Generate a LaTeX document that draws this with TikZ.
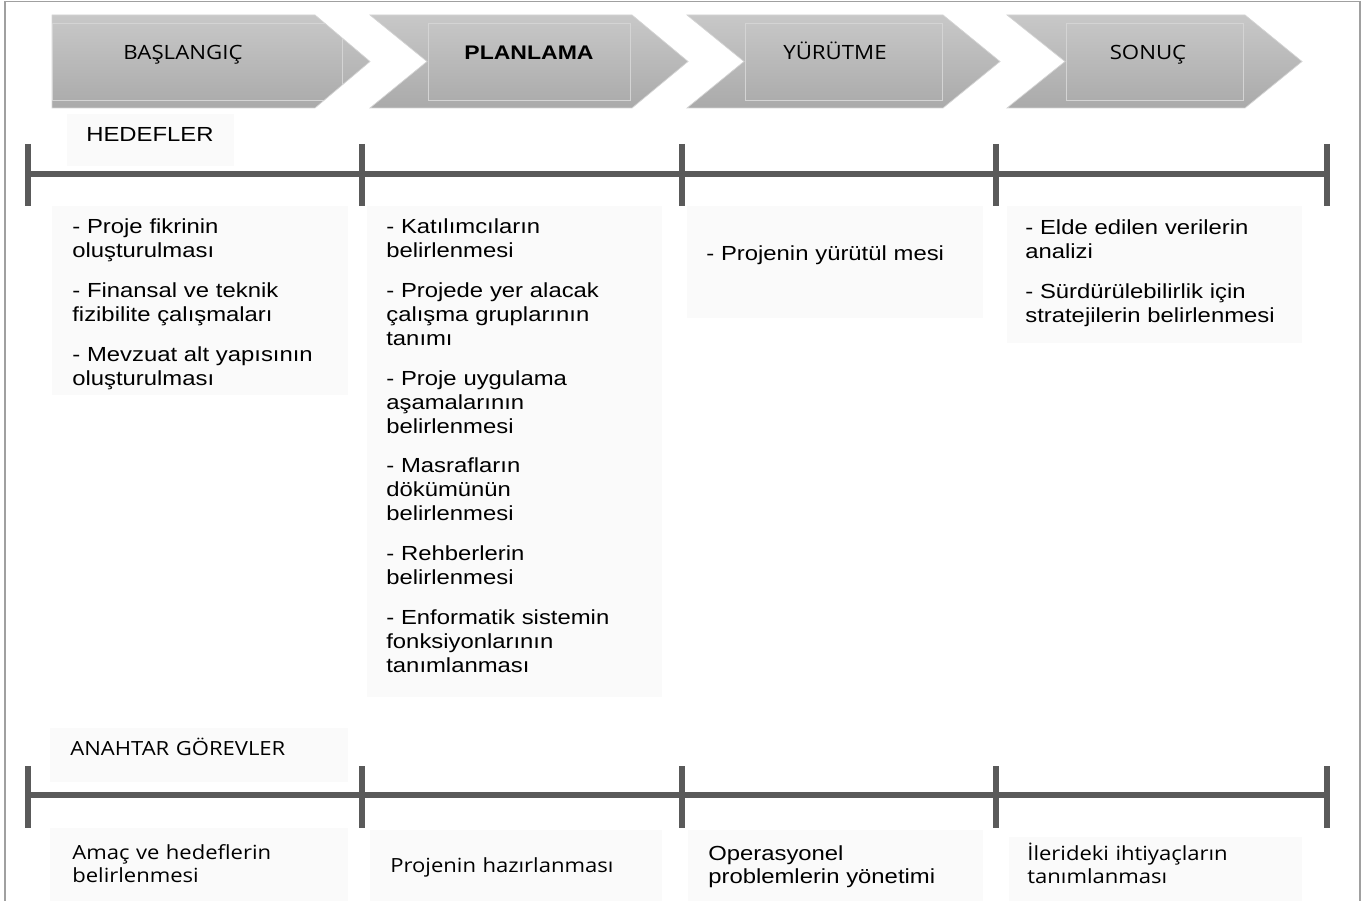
\documentclass[tikz,border=0pt]{standalone}
\usepackage{fontspec}
\usepackage{tikz}
\newfontfamily\arialfont[FakeStretch=1.17]{Liberation Sans}
\newfontfamily\openfont[FakeStretch=1.13]{Open Sans}
\definecolor{barcol}{HTML}{5A5A5A}
\definecolor{boxcol}{HTML}{FAFAFA}
\definecolor{framecol}{HTML}{A0A0A0}
\definecolor{chevtop}{HTML}{C8C8C8}
\definecolor{chevbot}{HTML}{AAAAAA}
\definecolor{chevline}{HTML}{D4D4D4}

\begin{document}
\begin{tikzpicture}[x=0.02cm,y=-0.02cm,
  chevron/.style={top color=chevtop,bottom color=chevbot,draw=chevline,line width=0.4pt},
  inner/.style={draw=chevline,line width=0.4pt},
  phase/.style={font=\openfont\fontsize{11.2}{13}\selectfont,inner sep=0pt,anchor=base},
  phasebold/.style={font=\arialfont\bfseries\fontsize{11.2}{13}\selectfont,inner sep=0pt,anchor=base},
  bgbox/.style={fill=boxcol,inner sep=0pt,anchor=north west},
  bodytext/.style={font=\arialfont\fontsize{11.6}{13.62}\selectfont,align=left,text width=170pt,inner sep=0pt,anchor=base west},
  tasktext/.style={font=\openfont\fontsize{11.1}{13.62}\selectfont,align=left,text width=170pt,inner sep=0pt,anchor=base west},
  bar/.style={draw=barcol,line width=3.7pt},
  tick/.style={draw=barcol,line width=3.4pt}]
\useasboundingbox (0,0) rectangle (1365,901);

%Frame
\draw[framecol,line width=1pt] (5,901) -- (5,1.5) -- (1360,1.5) -- (1360,901);

%Chevrons
\shade[chevron] (52,15) -- (315,15) -- (370,61.5) -- (315,108) -- (52,108) -- cycle;
\begin{scope}
\clip (52,15) -- (315,15) -- (370,61.5) -- (315,108) -- (52,108) -- cycle;
\draw[inner] (52,23) rectangle (342,100);
\end{scope}
\shade[chevron] (370,15) -- (632,15) -- (688,61.5) -- (632,108) -- (370,108) -- (427,61.5) -- cycle;
\draw[inner] (428,23) rectangle (630,100);
\shade[chevron] (687,15) -- (943,15) -- (1000,61.5) -- (943,108) -- (687,108) -- (744,61.5) -- cycle;
\draw[inner] (745,23) rectangle (942,100);
\shade[chevron] (1007,15) -- (1245,15) -- (1302,61.5) -- (1245,108) -- (1007,108) -- (1065,61.5) -- cycle;
\draw[inner] (1066,23) rectangle (1243,100);

\node[phase] (baslangic) at (183,60) {BAŞLANGIÇ};
\node[phasebold] (planlama) at (529,60) {PLANLAMA};
\node[phase] (yurutme) at (835,60) {YÜRÜTME};
\node[phase] (sonuc) at (1148,60) {SONUÇ};

%Goals
\node[bgbox,minimum width=167*0.02cm,minimum height=52*0.02cm] (hedbox) at (67,114) {};
\node[bodytext] (hedefler) at (86,142) {HEDEFLER};

\coordinate (h1) at (28,174);
\coordinate (h2) at (362,174);
\coordinate (h3) at (682,174);
\coordinate (h4) at (996,174);
\coordinate (h5) at (1327,174);
\draw[bar] (h1) -- (h5);
\draw[tick] (h1) ++(0,-30) -- ++(0,62);
\draw[tick] (h2) ++(0,-30) -- ++(0,62);
\draw[tick] (h3) ++(0,-30) -- ++(0,62);
\draw[tick] (h4) ++(0,-30) -- ++(0,62);
\draw[tick] (h5) ++(0,-30) -- ++(0,62);

\node[bgbox,minimum width=296*0.02cm,minimum height=189*0.02cm] (box1) at (52,206) {};
\node[bgbox,minimum width=295*0.02cm,minimum height=491*0.02cm] (box2) at (367,206) {};
\node[bgbox,minimum width=296*0.02cm,minimum height=112*0.02cm] (box3) at (687,206) {};
\node[bgbox,minimum width=295*0.02cm,minimum height=137*0.02cm] (box4) at (1007,206) {};

\node[bodytext] (goal1) at (72,234) {- Proje fikrinin\\oluşturulması\\[9pt]
- Finansal ve teknik\\fizibilite çalışmaları\\[9pt]
- Mevzuat alt yapısının\\oluşturulması};
\node[bodytext] (goal2) at (386,234) {- Katılımcıların\\belirlenmesi\\[9pt]
- Projede yer alacak\\çalışma gruplarının\\tanımı\\[9pt]
- Proje uygulama\\aşamalarının\\belirlenmesi\\[9pt]
- Masrafların\\dökümünün\\belirlenmesi\\[9pt]
- Rehberlerin\\belirlenmesi\\[9pt]
- Enformatik sistemin\\fonksiyonlarının\\tanımlanması};
\node[bodytext] (goal3) at (706,261) {- Projenin yürütül mesi};
\node[bodytext] (goal4) at (1025,235) {- Elde edilen verilerin\\analizi\\[9pt]
- Sürdürülebilirlik için\\stratejilerin belirlenmesi};

%Key tasks
\node[bgbox,minimum width=298*0.02cm,minimum height=54*0.02cm] (taskbox) at (50,728) {};
\node[tasktext] (gorevler) at (70,755) {ANAHTAR GÖREVLER};

\coordinate (k1) at (28,795);
\coordinate (k2) at (362,795);
\coordinate (k3) at (682,795);
\coordinate (k4) at (996,795);
\coordinate (k5) at (1327,795);
\draw[bar] (k1) -- (k5);
\draw[tick] (k1) ++(0,-29) -- ++(0,62);
\draw[tick] (k2) ++(0,-29) -- ++(0,62);
\draw[tick] (k3) ++(0,-29) -- ++(0,62);
\draw[tick] (k4) ++(0,-29) -- ++(0,62);
\draw[tick] (k5) ++(0,-29) -- ++(0,62);

\node[bgbox,minimum width=298*0.02cm,minimum height=73*0.02cm] (tbox1) at (50,828) {};
\node[bgbox,minimum width=292*0.02cm,minimum height=71*0.02cm] (tbox2) at (370,830) {};
\node[bgbox,minimum width=295*0.02cm,minimum height=71*0.02cm] (tbox3) at (688,830) {};
\node[bgbox,minimum width=293*0.02cm,minimum height=64*0.02cm] (tbox4) at (1009,837) {};

\node[tasktext] (task1) at (72,859) {Amaç ve hedeflerin\\belirlenmesi};
\node[tasktext] (task2) at (390,872) {Projenin hazırlanması};
\node[bodytext] (task3) at (708,860) {Operasyonel\\problemlerin yönetimi};
\node[tasktext] (task4) at (1027,860) {İlerideki ihtiyaçların\\tanımlanması};

\end{tikzpicture}
\end{document}
